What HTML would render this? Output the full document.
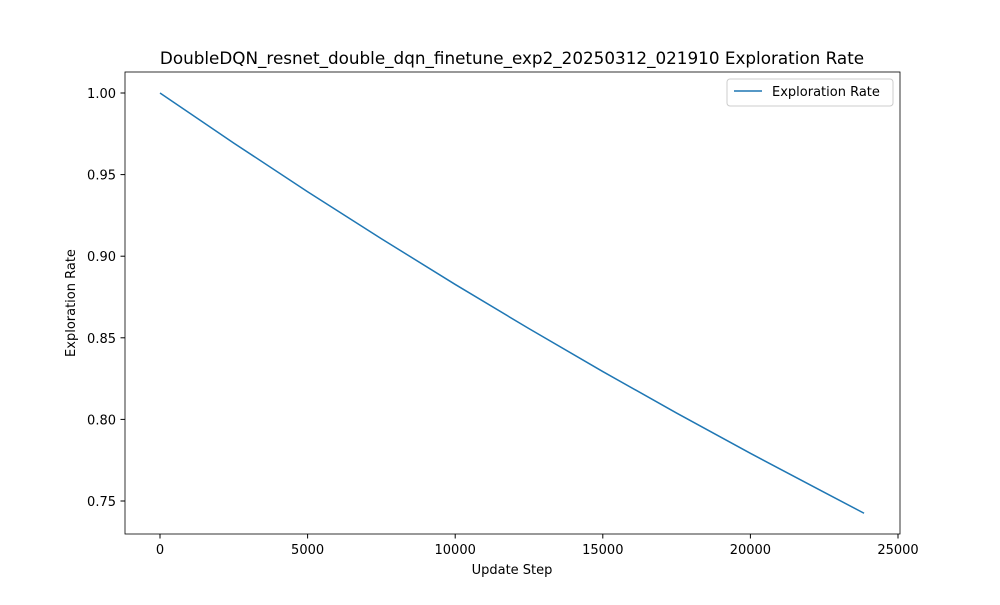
<!DOCTYPE html>
<html><head><meta charset="utf-8"><style>
body{margin:0;background:#fff;}
svg text{font-family:"DejaVu Sans","Liberation Sans",sans-serif;fill:#000;}
</style></head><body>
<svg id="chart" width="1000" height="600" xmlns="http://www.w3.org/2000/svg">
<rect width="1000" height="600" fill="#fff"/>
<text x="512" y="64" font-size="16.8" text-anchor="middle">DoubleDQN_resnet_double_dqn_finetune_exp2_20250312_021910 Exploration Rate</text>
<g id="xt"></g>
<g id="yt"></g>
<path id="line" fill="none" stroke="#1f77b4" stroke-width="1.5"/>
<rect x="125" y="72" width="775" height="462" fill="none" stroke="#000" stroke-width="0.8"/>
<text x="512" y="574" font-size="13" text-anchor="middle">Update Step</text>
<text x="75" y="303" font-size="13" text-anchor="middle" transform="rotate(-90 75 303)">Exploration Rate</text>
<g>
<rect x="727" y="79" width="166" height="27" rx="3" fill="#fff" stroke="#ccc"/>
<line x1="734" y1="91" x2="762" y2="91" stroke="#1f77b4" stroke-width="1.5"/>
<text x="772" y="96" font-size="13">Exploration Rate</text>
</g>
</svg>
<script>
const steps=[0,2500,5000,7500,10000,12500,15000,17500,20000,22500,23850];
const rates=[1.0,0.9693,0.9395,0.9107,0.8827,0.8556,0.8293,0.8039,0.7792,0.7553,0.7425];
const xTicks=[0,5000,10000,15000,20000,25000];
const yTicks=[0.75,0.80,0.85,0.90,0.95,1.00];
const NS="http://www.w3.org/2000/svg";
function xs(v){return 160+v*(738/25000);}
function ys(v){return 93+(1-v)*(408/0.25);}
const xt=document.getElementById('xt'),yt=document.getElementById('yt');
xTicks.forEach(t=>{
 const l=document.createElementNS(NS,'line');
 l.setAttribute('x1',xs(t));l.setAttribute('x2',xs(t));l.setAttribute('y1',534);l.setAttribute('y2',538.5);l.setAttribute('stroke','#000');
 
 
 xt.appendChild(l);
 const tx=document.createElementNS(NS,'text');
 tx.setAttribute('x',xs(t));tx.setAttribute('y',554);tx.setAttribute('font-size','13');tx.setAttribute('text-anchor','middle');
 tx.textContent=String(t);
 
 
 xt.appendChild(tx);
});
yTicks.forEach(t=>{
 const l=document.createElementNS(NS,'line');
 l.setAttribute('x1',120.5);l.setAttribute('x2',125);l.setAttribute('y1',ys(t));l.setAttribute('y2',ys(t));l.setAttribute('stroke','#000');
 
 
 yt.appendChild(l);
 const tx=document.createElementNS(NS,'text');
 tx.setAttribute('x',116);tx.setAttribute('y',ys(t)+5);tx.setAttribute('font-size','13');tx.setAttribute('text-anchor','end');
 tx.textContent=t.toFixed(2);
 
 
 yt.appendChild(tx);
});
document.getElementById('line').setAttribute('d',steps.map((s,i)=>(i?'L':'M')+xs(s)+','+ys(rates[i])).join(' '));
</script>
</body></html>
